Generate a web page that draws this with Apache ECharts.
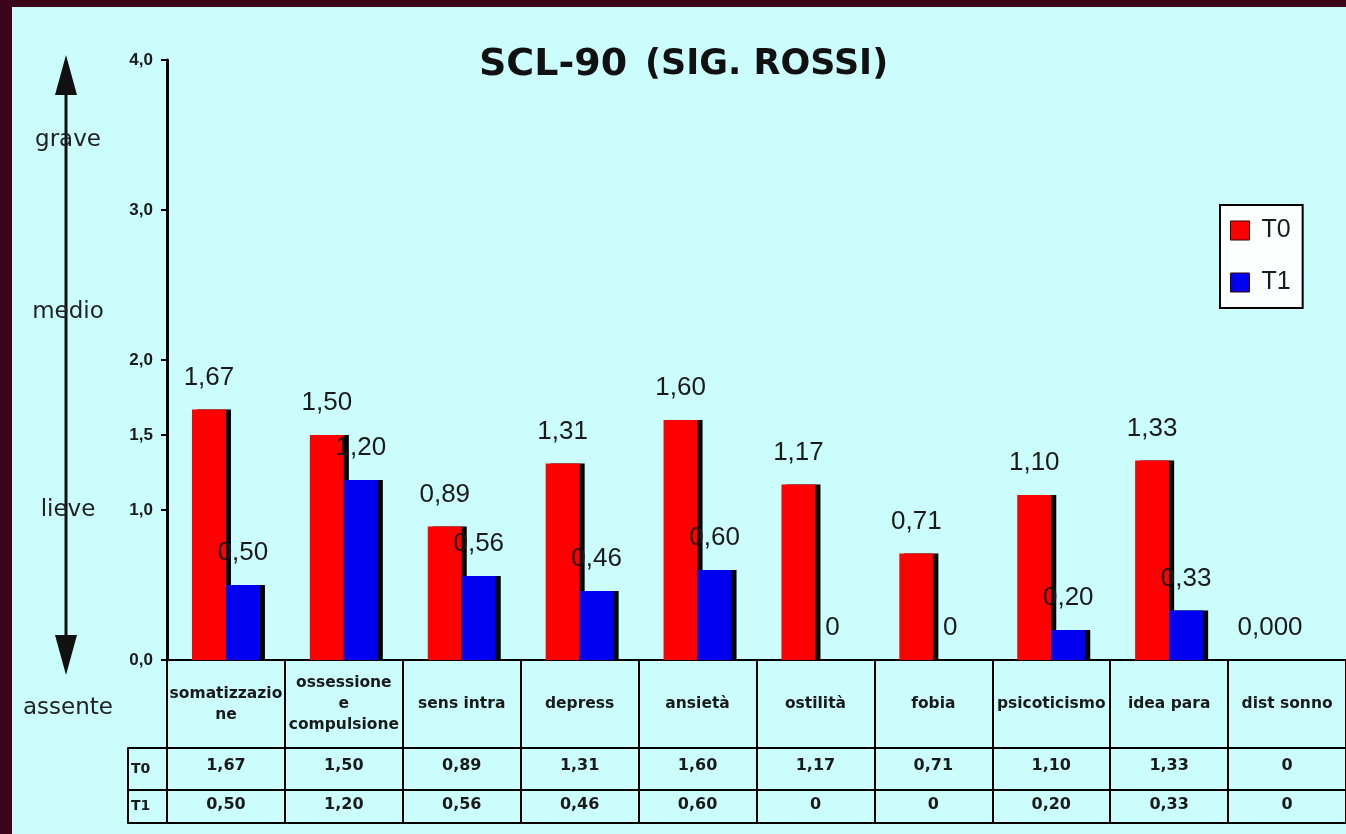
<!DOCTYPE html>
<html>
<head>
<meta charset="utf-8">
<title>SCL-90 (SIG. ROSSI)</title>
<script src="https://cdn.jsdelivr.net/npm/echarts@6/dist/echarts.min.js"></script>
<style>
  html, body { margin: 0; padding: 0; background: #3a0519; overflow: hidden; }
  #chart { position: absolute; left: 12px; top: 7px; width: 1334px; height: 827px; }
</style>
</head>
<body>
<div id="chart"></div>
<script>
// dati
const categories = ['somatizzazio\nne', 'ossessione\ne\ncompulsione', 'sens intra', 'depress', 'ansietà',
  'ostilità', 'fobia', 'psicoticismo', 'idea para', 'dist sonno']
const t0 = [1.67, 1.50, 0.89, 1.31, 1.60, 1.17, 0.71, 1.10, 1.33, 0]
const t1 = [0.50, 1.20, 0.56, 0.46, 0.60, 0, 0, 0.20, 0.33, 0]
const t0BarLabels = ['1,67', '1,50', '0,89', '1,31', '1,60', '1,17', '0,71', '1,10', '1,33', '0,000']
const t1BarLabels = ['0,50', '1,20', '0,56', '0,46', '0,60', '0', '0', '0,20', '0,33', '']
const t0Table = ['1,67', '1,50', '0,89', '1,31', '1,60', '1,17', '0,71', '1,10', '1,33', '0']
const t1Table = ['0,50', '1,20', '0,56', '0,46', '0,60', '0', '0', '0,20', '0,33', '0']
const yTicks = [0, 1, 1.5, 2, 3, 4]
const levels = ['grave', 'medio', 'lieve', 'assente']

const ink = '#1a1a1a'
const chart = echarts.init(document.getElementById('chart'))

// righe della tabella sotto il grafico
const rowAxis = (grid, labels, margin) => ({
  type: 'category',
  gridIndex: grid,
  data: categories,
  axisLine: { show: false },
  axisTick: { show: false },
  splitLine: { show: true, interval: 0, lineStyle: { color: '#000', width: 2 } },
  axisLabel: {
    interval: 0,
    margin: margin,
    verticalAlign: 'middle',
    color: ink,
    fontFamily: 'DejaVu Sans',
    fontWeight: 'bold',
    fontSize: labels ? 16 : 15.5,
    lineHeight: 21,
    formatter: (v, i) => labels ? labels[i] : v
  }
})
const rowNameAxis = (grid, name) => ({
  type: 'category',
  gridIndex: grid,
  data: [name],
  offset: 39,
  axisLine: { show: true, lineStyle: { color: '#000', width: 2 } },
  axisTick: { show: true, inside: true, length: 39, lineStyle: { color: '#000', width: 2 } },
  axisLabel: { inside: true, margin: 3, color: ink, fontSize: 14, fontWeight: 'bold', fontFamily: 'DejaVu Sans' }
})

const option = {
  backgroundColor: '#cbfdfd',
  animation: false,
  title: {
    left: 462,
    top: 31,
    text: '{a|SCL-90}  {b|(SIG. ROSSI)}',
    textStyle: {
      rich: {
        a: { fontFamily: 'DejaVu Sans', fontWeight: 'bold', fontSize: 38, color: '#111', lineHeight: 44 },
        b: { fontFamily: 'DejaVu Sans', fontWeight: 'bold', fontSize: 35, color: '#111', lineHeight: 44, padding: [0, 0, 0, 8] }
      }
    }
  },
  legend: {
    left: 1208,
    top: 198,
    orient: 'vertical',
    backgroundColor: '#fbfffd',
    borderColor: '#000',
    borderWidth: 2,
    padding: [13, 12, 13, 10],
    itemGap: 27,
    itemWidth: 19,
    itemHeight: 19,
    icon: 'rect',
    itemStyle: { shadowBlur: 0, shadowOffsetX: 0, shadowOffsetY: 0, shadowColor: 'transparent', borderColor: '#300', borderWidth: 1 },
    textStyle: { fontFamily: 'Liberation Sans', fontSize: 25, color: ink, padding: [0, 0, 0, 7] },
    data: ['T0', 'T1']
  },
  grid: [
    { left: 155, top: 53, width: 1191, height: 600 },
    { left: 155, top: 653, width: 1191, height: 88, show: true, borderColor: '#000', borderWidth: 2, backgroundColor: 'transparent' },
    { left: 155, top: 741, width: 1191, height: 42, show: true, borderColor: '#000', borderWidth: 2, backgroundColor: 'transparent' },
    { left: 155, top: 783, width: 1191, height: 33, show: true, borderColor: '#000', borderWidth: 2, backgroundColor: 'transparent' }
  ],
  xAxis: [
    {
      type: 'category',
      gridIndex: 0,
      data: categories,
      axisLine: { lineStyle: { color: '#000', width: 2 } },
      axisTick: { show: false },
      axisLabel: { show: false }
    },
    rowAxis(1, null, -44),
    rowAxis(2, t0Table, -24),
    rowAxis(3, t1Table, -18)
  ],
  yAxis: [
    {
      type: 'value',
      gridIndex: 0,
      min: 0,
      max: 4,
      interval: 0.5,
      splitLine: { show: false },
      axisLine: { show: true, lineStyle: { color: '#000', width: 3 } },
      axisTick: { show: true, length: 6, customValues: yTicks, lineStyle: { color: '#000', width: 2 } },
      axisLabel: {
        customValues: yTicks,
        margin: 14,
        color: ink,
        fontSize: 17,
        fontWeight: 'bold',
        fontFamily: 'Liberation Sans',
        formatter: v => v.toFixed(1).replace('.', ',')
      }
    },
    { type: 'category', gridIndex: 1, show: false, data: [''] },
    rowNameAxis(2, 'T0'),
    rowNameAxis(3, 'T1')
  ],
  graphic: [
    {
      type: 'line',
      shape: { x1: 54, y1: 80, x2: 54, y2: 640 },
      style: { stroke: '#111', lineWidth: 3 }
    },
    {
      type: 'polygon',
      shape: { points: [[54, 48], [43, 88], [65, 88]] },
      style: { fill: '#111' }
    },
    {
      type: 'polygon',
      shape: { points: [[54, 668], [43, 628], [65, 628]] },
      style: { fill: '#111' }
    }
  ].concat(levels.map((t, i) => ({
    type: 'text',
    x: 56,
    y: [133, 305, 503, 701][i],
    style: {
      text: t,
      fill: '#222',
      font: '23px "DejaVu Sans"',
      align: 'center',
      verticalAlign: 'middle'
    }
  }))),
  series: [
    {
      name: 'T0',
      type: 'bar',
      data: t0,
      barWidth: 34,
      barGap: '0%',
      itemStyle: { color: '#ff0000', shadowColor: '#000', shadowBlur: 0, shadowOffsetX: 5, shadowOffsetY: 0 },
      label: {
        show: true,
        position: 'top',
        distance: 19,
        fontFamily: 'Liberation Sans',
        fontSize: 26,
        color: ink,
        formatter: p => t0BarLabels[p.dataIndex]
      }
    },
    {
      name: 'T1',
      type: 'bar',
      data: t1,
      barWidth: 34,
      barGap: '0%',
      itemStyle: { color: '#0000f0', shadowColor: '#000', shadowBlur: 0, shadowOffsetX: 5, shadowOffsetY: 0 },
      label: {
        show: true,
        position: 'top',
        distance: 19,
        fontFamily: 'Liberation Sans',
        fontSize: 26,
        color: ink,
        formatter: p => t1BarLabels[p.dataIndex]
      }
    }
  ]
}

chart.setOption(option)
</script>
</body>
</html>
